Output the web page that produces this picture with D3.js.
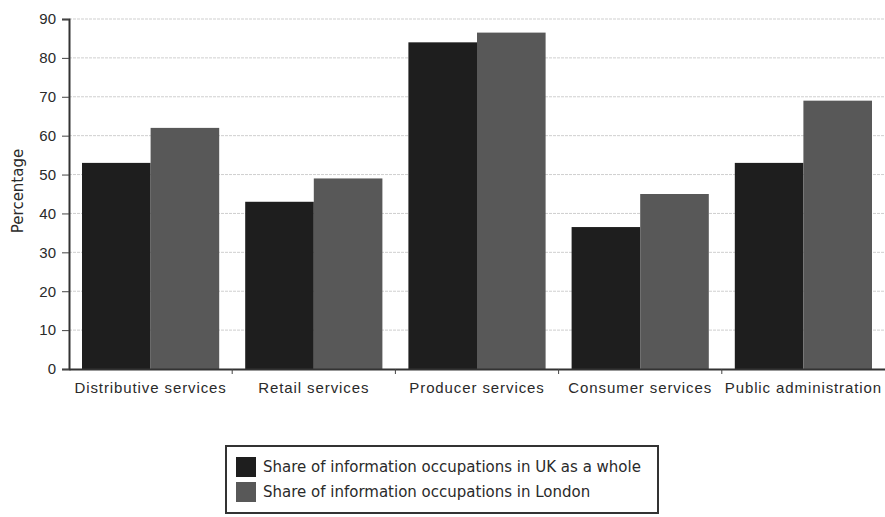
<!DOCTYPE html>
<html>
<head>
<meta charset="utf-8">
<script src="https://cdn.jsdelivr.net/npm/d3@7"></script>
<style>
  body { margin: 0; background: #fff; }
  svg { display: block; font-family: "DejaVu Sans", "Liberation Sans", Arial, sans-serif; }
</style>
</head>
<body>
<svg id="chart" width="885" height="517"></svg>
<script>
// Sectors and the share of information occupations in each
const categories = ["Distributive services", "Retail services", "Producer services", "Consumer services", "Public administration"];
const seriesNames = ["Share of information occupations in UK as a whole", "Share of information occupations in London"];
const ukValues = [53, 43, 84, 36.5, 53];
const londonValues = [62, 49, 86.5, 45, 69];
const yTicks = [0, 10, 20, 30, 40, 50, 60, 70, 80, 90];
const colors = ["#1e1e1e", "#585858"];

const svg = d3.select("#chart");
const margin = { top: 19, right: 0, bottom: 148, left: 69 };
const width = 885 - margin.left - margin.right;
const height = 517 - margin.top - margin.bottom;

const g = svg.append("g").attr("transform", `translate(${margin.left},${margin.top})`);

const x0 = d3.scaleBand().domain(categories).range([0, width]).paddingInner(0).paddingOuter(0);
const x1 = d3.scaleBand().domain([0, 1]).range([13, x0.bandwidth() - 13]).padding(0);
const y = d3.scaleLinear().domain([0, 90]).range([height, 0]);

// horizontal gridlines
g.append("g")
  .selectAll("line")
  .data(yTicks.filter(t => t > 0))
  .join("line")
  .attr("x1", 0).attr("x2", width)
  .attr("y1", d => y(d)).attr("y2", d => y(d))
  .attr("stroke", "#cfcfcf")
  .attr("stroke-width", 1)
  .attr("stroke-dasharray", "3,1");

// bars
const groups = g.append("g")
  .selectAll("g")
  .data(categories.map((c, i) => ({ c, vals: [ukValues[i], londonValues[i]] })))
  .join("g")
  .attr("transform", d => `translate(${x0(d.c)},0)`);

groups.selectAll("rect")
  .data(d => d.vals.map((v, k) => ({ v, k })))
  .join("rect")
  .attr("x", d => x1(d.k))
  .attr("width", x1.bandwidth())
  .attr("y", d => y(d.v))
  .attr("height", d => y(0) - y(d.v))
  .attr("fill", d => colors[d.k]);

// y axis
const yAxis = g.append("g")
  .call(d3.axisLeft(y).tickValues(yTicks).tickSize(7).tickPadding(6));
yAxis.select(".domain").attr("stroke", "#333").attr("stroke-width", 2);
yAxis.selectAll(".tick line").attr("stroke", "#444");
yAxis.selectAll("text").attr("font-size", 15).attr("fill", "#2a2a2a");

// x axis
const xAxis = g.append("g")
  .attr("transform", `translate(0,${height})`)
  .call(d3.axisBottom(x0).tickSize(0).tickPadding(13));
xAxis.select(".domain").attr("stroke", "#333").attr("stroke-width", 2);
xAxis.selectAll("text")
  .attr("font-size", 15)
  .attr("letter-spacing", 0.9)
  .attr("fill", "#2a2a2a");

// tick marks between categories
g.append("g")
  .selectAll("line")
  .data(categories.slice(0, -1))
  .join("line")
  .attr("x1", d => x0(d) + x0.bandwidth())
  .attr("x2", d => x0(d) + x0.bandwidth())
  .attr("y1", height).attr("y2", height + 5)
  .attr("stroke", "#444");

// y axis title
svg.append("text")
  .attr("transform", "translate(23,191) rotate(-90)")
  .attr("text-anchor", "middle")
  .attr("font-size", 15)
  .attr("fill", "#2a2a2a")
  .text("Percentage");

// legend
const legend = svg.append("g").attr("transform", "translate(226,446)");
legend.append("rect")
  .attr("x", 0).attr("y", 0).attr("width", 432).attr("height", 67)
  .attr("fill", "#fff").attr("stroke", "#333").attr("stroke-width", 2);
const items = legend.selectAll("g.item")
  .data(seriesNames)
  .join("g")
  .attr("class", "item")
  .attr("transform", (d, i) => `translate(10,${11 + i * 25})`);
items.append("rect")
  .attr("width", 20).attr("height", 20)
  .attr("fill", (d, i) => colors[i]);
items.append("text")
  .attr("x", 27).attr("y", 15)
  .attr("font-size", 15)
  .attr("fill", "#2a2a2a")
  .text(d => d);
</script>
</body>
</html>
